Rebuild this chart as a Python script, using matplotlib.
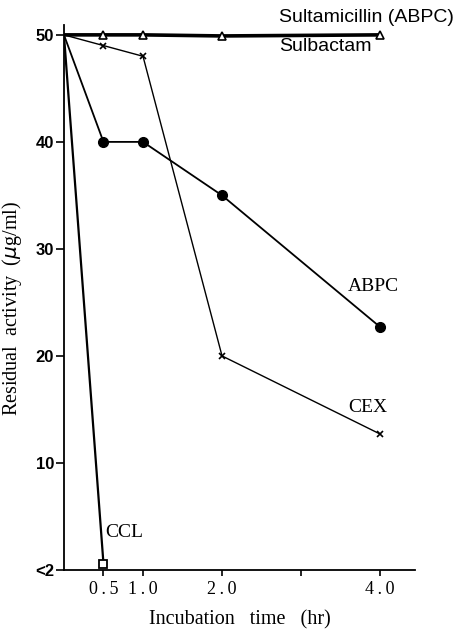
import matplotlib
matplotlib.use("Agg")
import matplotlib.pyplot as plt

# Data
time_sulta = [0, 0.5, 1.0, 2.0, 4.0]
sulta = [50, 50, 50, 49.9, 50]

time_cex = [0, 0.5, 1.0, 2.0, 4.0]
cex = [50, 49, 48, 20, 12.7]

time_abpc = [0, 0.5, 1.0, 2.0, 4.0]
abpc = [50, 40, 40, 35, 22.7]

time_ccl = [0, 0.5]
ccl = [50, 0.6]

xticks = [0.5, 1.0, 2.0, 3.0, 4.0]
xticklabels = ["0\u2009.\u20095", "1\u2009.\u20090", "2\u2009.\u20090", "", "4\u2009.\u20090"]
yticks = [0, 10, 20, 30, 40, 50]
yticklabels = ["<2", "10", "20", "30", "40", "50"]

serif = "Liberation Serif"
sans = "Liberation Sans"

fig = plt.figure(figsize=(4.6, 6.31), dpi=100)
ax = fig.add_axes([0.139, 0.0967, 0.763, 0.8633])

ax.plot(time_sulta, sulta, color="black", lw=2.6, marker="^", ms=6,
        markerfacecolor="white", markeredgecolor="black", markeredgewidth=1.2,
        markevery=[1, 2, 3, 4], zorder=5)
ax.plot(time_cex, cex, color="black", lw=1.0, marker="x", ms=5,
        markeredgewidth=1.2, markevery=[1, 2, 3, 4])
ax.plot(time_abpc, abpc, color="black", lw=1.3, marker="o", ms=7,
        markevery=[1, 2, 3, 4])
ax.plot(time_ccl, ccl, color="black", lw=1.6, marker="s", ms=6,
        markerfacecolor="white", markeredgewidth=1.3, markevery=[1])

ax.set_xlim(0, 4.44)
ax.set_ylim(0, 50.9)
ax.spines["top"].set_visible(False)
ax.spines["right"].set_visible(False)
ax.spines["left"].set_linewidth(1.3)
ax.spines["bottom"].set_linewidth(1.3)

ax.set_xticks(xticks)
ax.set_xticklabels(xticklabels, fontfamily=serif, fontsize=13)
ax.set_yticks(yticks)
ax.set_yticklabels(yticklabels, fontfamily=sans, fontsize=12, fontweight="bold")
ax.tick_params(axis="x", direction="out", length=4, width=1.2, pad=4)
ax.tick_params(axis="y", direction="out", length=6, width=1.2, pad=1)

ax.set_xlabel("Incubation   time   (hr)", fontfamily=serif, fontsize=14.5, labelpad=9)
ax.set_ylabel("Residual  activity  ($\\mu$g/ml)", fontfamily=serif, fontsize=14.5, labelpad=6)
ax.yaxis.set_label_coords(-0.115, 0.48)

ax.text(2.72, 51.6, "Sultamicillin (ABPC)", fontfamily=sans, fontsize=14,
        ha="left", va="center", clip_on=False)
ax.text(2.72, 48.9, "Sulbactam", fontfamily=sans, fontsize=14,
        ha="left", va="center", clip_on=False)
ax.text(3.92, 26.5, "ABPC", fontfamily=serif, fontsize=14, ha="center", va="center")
ax.text(3.85, 15.2, "CEX", fontfamily=serif, fontsize=14, ha="center", va="center")
ax.text(0.52, 3.5, "CCL", fontfamily=serif, fontsize=14, ha="left", va="center")

fig.savefig("out.png", dpi=100)
